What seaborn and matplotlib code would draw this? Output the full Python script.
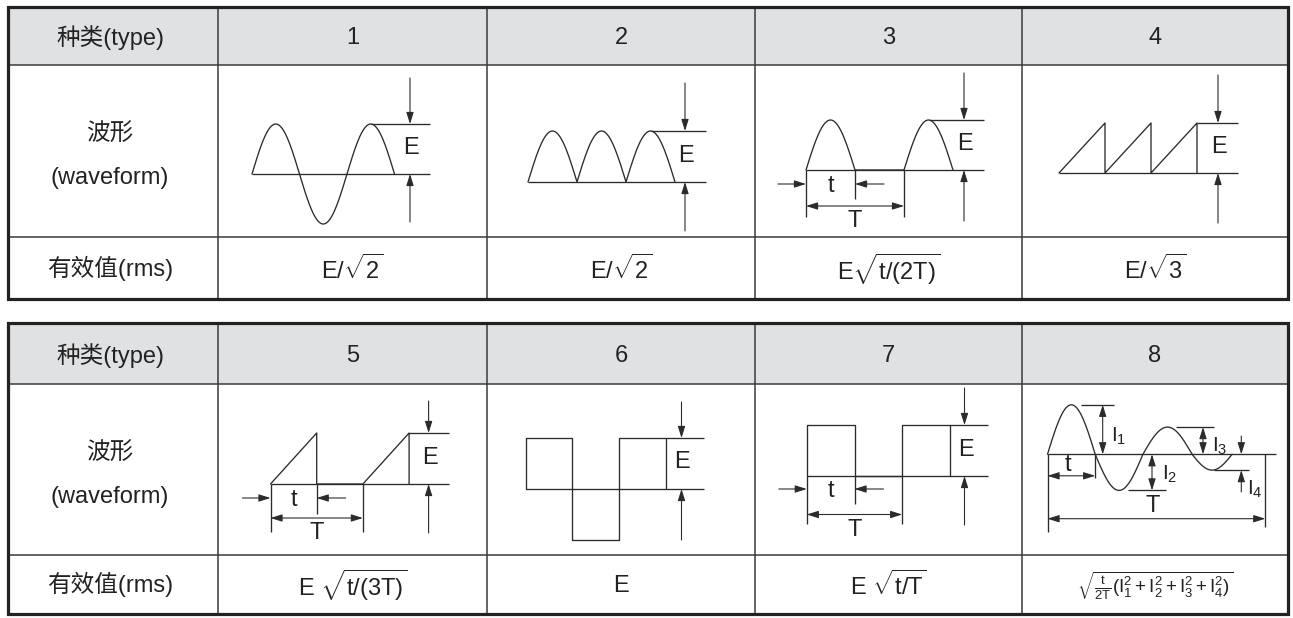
import numpy as np
import matplotlib.pyplot as plt
import seaborn as sns
from matplotlib.patches import Rectangle

# Set up the style and fonts
sns.set_theme(style="white")
plt.rcParams['font.family'] = ['Liberation Sans', 'Noto Sans CJK SC', 'DejaVu Sans']
plt.rcParams['mathtext.fontset'] = 'custom'
plt.rcParams['mathtext.rm'] = 'Liberation Sans'
plt.rcParams['mathtext.it'] = 'Liberation Sans:italic'

# Table text
row_labels = ["种类(type)", "波形", "(waveform)", "有效值(rms)"]
type_labels = ["1", "2", "3", "4", "5", "6", "7", "8"]
rms_labels = [
    r"$\mathrm{E/\sqrt{2}}$",
    r"$\mathrm{E/\sqrt{2}}$",
    r"$\mathrm{E\sqrt{t/(2T)}}$",
    r"$\mathrm{E/\sqrt{3}}$",
    r"$\mathrm{E\ \sqrt{t/(3T)}}$",
    r"$\mathrm{E}$",
    r"$\mathrm{E\ \sqrt{t/T}}$",
    r"$\mathrm{\sqrt{\frac{t}{2T}(I_1^2+I_2^2+I_3^2+I_4^2)}}$",
]
peak_labels = [r"$\mathrm{I_1}$", r"$\mathrm{I_2}$", r"$\mathrm{I_3}$", r"$\mathrm{I_4}$"]

# Waveform shapes: x in half periods, y in units of the peak value
sine_lobes = [1, -1, 1]                 # type 1
full_wave_lobes = [1, 1, 1]             # type 2
half_wave_lobes = [1, 0, 1]             # type 3
saw_x = [0, 1, 1, 2, 2, 3, 3]           # type 4
saw_y = [0, 1, 0, 1, 0, 1, 0]
ramp_x = [0, 1, 1, 2, 3, 3]             # type 5
ramp_y = [0, 1, 0, 0, 1, 0]
square_x = [0, 0, 1, 1, 2, 2, 3, 3]     # type 6
square_y = [0, 1, 1, -1, -1, 1, 1, 0]
pulse_x = [0, 0, 1, 1, 2, 2, 3, 3]      # type 7
pulse_y = [0, 1, 1, 0, 0, 1, 1, 0]
mixed_lobes = [1.0, -0.73, 0.55, -0.32]  # type 8 (relative to I1)
mixed_widths = [1.0, 1.0, 1.03, 0.84]

LC = "#2b2b2b"
LW = 0.95
FS = 17

fig = plt.figure(figsize=(12.93, 6.18), dpi=100)
ax = fig.add_axes([0, 0, 1, 1])


def lobe_curve(lobes, widths=None, n=60):
    widths = widths or [1] * len(lobes)
    xs, ys, start = [], [], 0.0
    for a, w in zip(lobes, widths):
        u = np.linspace(0, 1, n)
        xs.append(start + w * u)
        ys.append(a * np.sin(np.pi * u))
        start += w
    return np.concatenate(xs), np.concatenate(ys)


def draw_wave(x, y, c):
    px = c["x0"] + np.asarray(x, float) * c["w"]
    py = c["base"] - np.asarray(y, float) * c["amp"]
    sns.lineplot(x=px, y=py, ax=ax, sort=False, estimator=None, color=LC, lw=LW)


def seg(x0, y0, x1, y1, color=LC, lw=LW):
    ax.plot([x0, x1], [y0, y1], color=color, lw=lw, solid_capstyle="butt")


def arrow(x0, y0, x1, y1, double=False):
    style = "<|-|>" if double else "-|>"
    ax.annotate("", xy=(x1, y1), xytext=(x0, y0),
                arrowprops=dict(arrowstyle=style + ",head_length=0.7,head_width=0.22",
                                color=LC, lw=0.8, shrinkA=0, shrinkB=0,
                                mutation_scale=10))


def label(x, y, s, size=FS, ha="center"):
    ax.text(x, y, s, ha=ha, va="center", fontsize=size, color="#222222")


def e_marker(c):
    top = c["base"] - c["amp"]
    seg(c["x0"] + c["top_from"] * c["w"], top, c["right"], top)
    seg(c["x0"], c["base"], c["right"], c["base"])
    arrow(c["ex"], top - c["dn"], c["ex"], top)
    arrow(c["ex"], c["base"] + c["up"], c["ex"], c["base"])
    label(c["ex"] + 1, c["base"] - c["amp"] / 2 - 1, "E")


def t_marker(c):
    b, x0, w = c["base"], c["x0"], c["w"]
    seg(x0, b, x0, b + c["long"])
    seg(x0 + 2 * w, b, x0 + 2 * w, b + c["long"])
    seg(x0 + w, b, x0 + w, b + c["short"])
    arrow(x0 - 28, b + c["dt"], x0, b + c["dt"])
    arrow(x0 + w + 29, b + c["dt"], x0 + w, b + c["dt"])
    arrow(x0, b + c["dT"], x0 + 2 * w, b + c["dT"], double=True)
    label(x0 + w / 2, b + c["dt"] + 2, "t")
    label(x0 + w, b + c["dT"] + 15, "T")


# ---- tables ----
col_edges = [8, 218, 487, 755, 1022, 1288]
tables = [[7, 65, 237, 299], [323, 384, 555, 614]]

for ti, rows in enumerate(tables):
    ax.add_patch(Rectangle((col_edges[0], rows[0]), col_edges[-1] - col_edges[0],
                           rows[1] - rows[0], facecolor="#e0e1e3", edgecolor="none", zorder=0))
    for xe in col_edges[1:-1]:
        seg(xe, rows[0], xe, rows[-1], color="#3a3a3a", lw=1.1)
    for ye in rows[1:-1]:
        seg(col_edges[0], ye, col_edges[-1], ye, color="#3a3a3a", lw=1.1)
    ax.add_patch(Rectangle((col_edges[0], rows[0]), col_edges[-1] - col_edges[0],
                           rows[-1] - rows[0], facecolor="none", edgecolor="#222222",
                           lw=2.3, zorder=5))
    xc0 = (col_edges[0] + col_edges[1]) / 2 - 3
    hy = (rows[0] + rows[1]) / 2 + 2
    wy = (rows[1] + rows[2]) / 2
    ry = (rows[2] + rows[3]) / 2
    label(xc0, hy, row_labels[0])
    label(xc0, wy - 16, row_labels[1])
    label(xc0, wy + 27, row_labels[2])
    label(xc0, ry, row_labels[3])
    for k in range(4):
        i = ti * 4 + k
        xc = (col_edges[k + 1] + col_edges[k + 2]) / 2
        label(xc, hy, type_labels[i])
        label(xc, ry + 1, rms_labels[i], size=13.5 if i == 7 else FS)

# ---- waveforms ----
c1 = dict(x0=252, w=47.5, base=174, amp=50, right=430, ex=410, dn=46, up=48, top_from=2.5)
x, y = lobe_curve(sine_lobes)
draw_wave(x, y, c1)
e_marker(c1)

c2 = dict(x0=528, w=49, base=182, amp=51, right=706, ex=685, dn=48, up=49, top_from=2.5)
x, y = lobe_curve(full_wave_lobes)
draw_wave(x, y, c2)
e_marker(c2)

c3 = dict(x0=806, w=49, base=170, amp=50, right=984, ex=964, dn=47, up=51, top_from=2.5,
          long=47, short=29, dt=14, dT=36)
x, y = lobe_curve(half_wave_lobes)
draw_wave(x, y, c3)
e_marker(c3)
t_marker(c3)

c4 = dict(x0=1059, w=46, base=173, amp=50, right=1238, ex=1218, dn=48, up=50, top_from=3)
draw_wave(saw_x, saw_y, c4)
e_marker(c4)

c5 = dict(x0=270.5, w=46.2, base=484, amp=51, right=449, ex=428.6, dn=32, up=49, top_from=3,
          long=48, short=30, dt=14, dT=34)
draw_wave(ramp_x, ramp_y, c5)
e_marker(c5)
t_marker(c5)

c6 = dict(x0=525.7, w=46.7, base=489, amp=51, right=704, ex=681.5, dn=36, up=51, top_from=3)
draw_wave(square_x, square_y, c6)
e_marker(c6)

c7 = dict(x0=806.8, w=47.7, base=476, amp=51, right=988, ex=964.5, dn=37, up=49, top_from=3,
          long=48, short=28, dt=13, dT=38.5)
draw_wave(pulse_x, pulse_y, c7)
e_marker(c7)
t_marker(c7)

# type 8: mixed waveform with individual peaks
c8 = dict(x0=1047.5, w=47.7, base=454.3, amp=49.5)
x, y = lobe_curve(mixed_lobes, mixed_widths)
draw_wave(x, y, c8)
b8 = c8["base"]
pk = [b8 - a * c8["amp"] for a in mixed_lobes]
seg(c8["x0"], b8, 1275.7, b8)
# I1
seg(1080.7, pk[0], 1114, pk[0])
arrow(1102.7, b8, 1102.7, pk[0], double=True)
label(1111, 436, peak_labels[0], size=15, ha="left")
# I2
seg(1128.4, pk[1], 1165.7, pk[1])
arrow(1152, b8, 1152, pk[1], double=True)
label(1162, 474, peak_labels[1], size=15, ha="left")
# I3
seg(1176, pk[2], 1213.5, pk[2])
arrow(1203, b8, 1203, pk[2], double=True)
label(1212, 446, peak_labels[2], size=15, ha="left")
# I4
seg(1213.5, pk[3], 1248.7, pk[3])
arrow(1241.3, 436, 1241.3, b8)
arrow(1241.3, 492, 1241.3, pk[3])
label(1247, 489, peak_labels[3], size=15, ha="left")
# t and T
seg(c8["x0"], b8, c8["x0"], 532)
seg(1095.2, b8, 1095.2, 478)
seg(1265.3, b8, 1265.3, 527)
arrow(c8["x0"], 475.8, 1095.2, 475.8, double=True)
arrow(c8["x0"], 518.7, 1265.3, 518.7, double=True)
label(1068, 465, "t")
label(1153, 506, "T")

ax.set_xlim(0, 1293)
ax.set_ylim(618, 0)
ax.axis("off")

plt.savefig("out.png", dpi=100)
